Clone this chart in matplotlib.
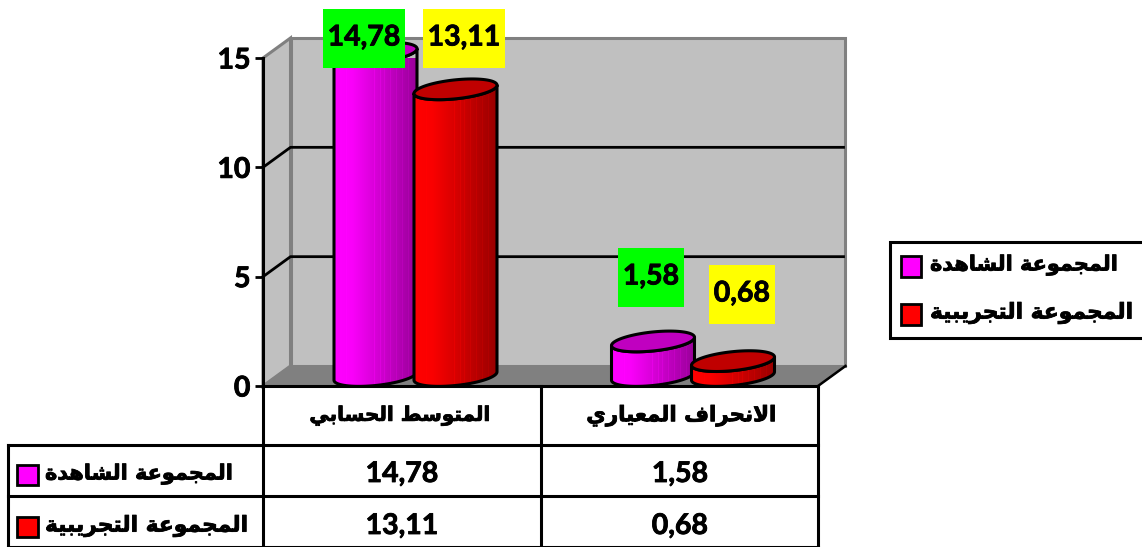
import numpy as np
import matplotlib
matplotlib.use('Agg')
import matplotlib.pyplot as plt
import matplotlib.patheffects as pe
from matplotlib.patches import Polygon, Rectangle

categories = ['المتوسط الحسابي', 'الانحراف المعياري']
series_names = ['المجموعة الشاهدة', 'المجموعة التجريبية']
control = [14.78, 1.58]
experimental = [13.11, 0.68]
yticks = [0, 5, 10, 15]

W, H = 1142, 547
NUM_FONT = 'Lato'
AR_FONT = 'DejaVu Sans'
thick = [pe.withStroke(linewidth=0.6, foreground='black')]

# arabic has to be shaped by hand, matplotlib does not do it
FORMS = {'ا': (0xFE8D, 2), 'ب': (0xFE8F, 4), 'ة': (0xFE93, 2), 'ت': (0xFE95, 4),
         'ج': (0xFE9D, 4), 'ح': (0xFEA1, 4), 'د': (0xFEA9, 2), 'ر': (0xFEAD, 2),
         'س': (0xFEB1, 4), 'ش': (0xFEB5, 4), 'ط': (0xFEC1, 4), 'ع': (0xFEC9, 4),
         'ف': (0xFED1, 4), 'ل': (0xFEDD, 4), 'م': (0xFEE1, 4), 'ن': (0xFEE5, 4),
         'ه': (0xFEE9, 4), 'و': (0xFEED, 2), 'ي': (0xFEF1, 4)}


def shape(s):
    out = []
    i = 0
    while i < len(s):
        c = s[i]
        if c not in FORMS:
            out.append(c)
            i += 1
            continue
        prev = s[i - 1] if i > 0 else ' '
        joined = prev in FORMS and FORMS[prev][1] == 4
        if c == 'ل' and i + 1 < len(s) and s[i + 1] == 'ا':
            out.append(chr(0xFEFC if joined else 0xFEFB))
            i += 2
            continue
        nxt = s[i + 1] if i + 1 < len(s) else ' '
        code, n = FORMS[c]
        to_next = n == 4 and nxt in FORMS
        if joined and to_next:
            out.append(chr(code + 3))
        elif joined:
            out.append(chr(code + 1))
        elif to_next:
            out.append(chr(code + 2))
        else:
            out.append(chr(code))
        i += 1
    return ''.join(reversed(out))


fig = plt.figure(figsize=(W / 100, H / 100), dpi=100, facecolor='white')
ax = fig.add_axes([263 / W, (H - 386) / H, 555 / W, 328 / H], zorder=1)
ax.patch.set_visible(False)
ax.set_xlim(0, 2)
ax.set_ylim(0, 15)
px = 2 / 555
py = 15 / 328
DX = 27.5 * px
DY = 20 * py

# walls
ax.add_patch(Rectangle((DX, DY), 2, 15, fc='#C0C0C0', ec='#808080', lw=2.2, zorder=1, clip_on=False))
ax.add_patch(Polygon([(0, 0), (DX, DY), (DX, 15 + DY), (0, 15)], fc='#C0C0C0', ec='#808080', lw=2.2,
                     zorder=1, clip_on=False))
ax.add_patch(Polygon([(0, 0), (DX, DY), (2 + DX, DY), (2, 0)], fc='#808080', ec='#808080', lw=1,
                     zorder=1.5, clip_on=False))
ax.plot([2, 2 + DX], [0, DY], color='black', lw=1.8, zorder=2, clip_on=False)
for v in yticks[1:-1]:
    ax.plot([0, DX, 2 + DX - 2 * px], [v, v + DY, v + DY], color='black', lw=2, zorder=2, clip_on=False)


def cylinder(cx, v, col, top, z):
    a = 41.5
    b = 9.5
    k = 0.1
    y0 = DY / 2
    t = np.linspace(np.pi, 2 * np.pi, 60)
    xs = a * np.cos(t)
    ys = b * np.sin(t) + k * xs
    top_x = cx + xs * px
    top_y = y0 + v + ys * py
    base_x = cx + xs * px
    base_y = y0 + ys * py
    body = Polygon(np.r_[np.c_[top_x, top_y], np.c_[base_x, base_y][::-1]], fc='none', ec='black',
                   lw=2.2, zorder=z + 0.2, clip_on=False, joinstyle='round')
    ax.add_patch(body)
    # vertical shading with faint stripes
    n = 83
    shade = np.interp(np.arange(n), [0, 18, 45, 82], [1.0, 0.98, 0.82, 0.6])
    shade[[12, 40, 46, 50, 56, 62, 68, 74]] *= 1.07
    img = np.zeros((1, n, 3))
    img[0, :] = np.c_[shade * col[0], shade * col[1], shade * col[2]].clip(0, 1)
    lo = base_y.min()
    hi = top_y.max()
    im = ax.imshow(img, extent=(cx - a * px, cx + a * px, lo, hi), aspect='auto', zorder=z,
                   interpolation='nearest')
    im.set_clip_path(Polygon(body.get_xy(), transform=ax.transData))
    im.set_clip_on(True)
    t2 = np.linspace(0, 2 * np.pi, 90)
    ex = a * np.cos(t2)
    ey = b * np.sin(t2) + k * ex
    ax.add_patch(Polygon(np.c_[cx + ex * px, y0 + v + ey * py], fc=top, ec='black', lw=2.2,
                         zorder=z + 0.3, clip_on=False))


for i in range(len(categories)):
    c = i + 0.5 + DX / 2
    cylinder(c - 40 * px, control[i], (1, 0, 1), '#C000C0', 3 + i)
    cylinder(c + 40 * px, experimental[i], (1, 0, 0), '#C00000', 3.5 + i)
ax.set_xlim(0, 2)
ax.set_ylim(0, 15)

ax.set_yticks(yticks)
ax.set_yticklabels([str(v) for v in yticks], fontfamily=NUM_FONT, fontweight='bold', fontsize=20.5,
                   path_effects=thick)
ax.set_xticks([])
ax.tick_params(axis='y', length=6, width=2, pad=3)
for s in ['top', 'right']:
    ax.spines[s].set_visible(False)
for s in ['left', 'bottom']:
    ax.spines[s].set_linewidth(2.2)
    ax.spines[s].set_zorder(2.5)

# everything else sits on a pixel overlay
fg = fig.add_axes([0, 0, 1, 1], zorder=2)
fg.set_xlim(0, W)
fg.set_ylim(H, 0)
fg.axis('off')


def num(x, y, s, size=20.5):
    fg.text(x, y, s, ha='center', va='center', fontfamily=NUM_FONT, fontweight='bold', fontsize=size,
            color='black', path_effects=thick)


def comma(v):
    return f'{v:.2f}'.replace('.', ',')


def ar(x, y, s, ha='center', size=15):
    fg.text(x, y, shape(s), ha=ha, va='center', fontfamily=AR_FONT, fontweight='bold', fontsize=size,
            color='black', path_effects=thick)


def key(x0, y0, x1, y1, col):
    fg.add_patch(Rectangle((x0, y0), x1 - x0, y1 - y0, fc=col, ec='black', lw=2))


# data labels
boxes = [(323, 9, 405, 68, '#00FF00', control[0]), (423, 9, 505, 68, '#FFFF00', experimental[0]),
         (618, 248, 684, 307, '#00FF00', control[1]), (709, 265, 775, 324, '#FFFF00', experimental[1])]
for x0, y0, x1, y1, col, v in boxes:
    fg.add_patch(Rectangle((x0, y0), x1 - x0, y1 - y0, fc=col, ec='none'))
    num((x0 + x1) / 2, (y0 + y1) / 2 - 1, comma(v))

# data table
line = dict(color='black', lw=2.2, solid_capstyle='projecting')
for x, y0 in [(263, 386), (541, 386), (818, 386), (8, 445)]:
    fg.plot([x, x], [y0, H], **line)
for y in [445, 496]:
    fg.plot([8, 818], [y, y], **line)
fg.plot([8, 818], [H - 0.5, H - 0.5], **line)

ar(400, 416, categories[0], size=14.4)
ar(681, 416, categories[1], size=15.4)
rows = [(474, 465, 485, '#FF00FF', control), (526, 517, 537, '#FF0000', experimental)]
for j, (yc, y0, y1, col, vals) in enumerate(rows):
    key(17, y0, 38, y1, col)
    ar(45, yc, series_names[j], ha='left', size=15 + 0.7 * j)
    num(402, yc, comma(vals[0]))
    num(680, yc, comma(vals[1]))

# legend
fg.add_patch(Rectangle((890, 242), 260, 96, fc='white', ec='black', lw=2.2))
key(901, 256, 921, 277, '#FF00FF')
key(901, 304, 921, 325, '#FF0000')
ar(930, 265, series_names[0], ha='left')
ar(930, 313, series_names[1], ha='left', size=15.7)

fig.savefig('out.png', dpi=100)
